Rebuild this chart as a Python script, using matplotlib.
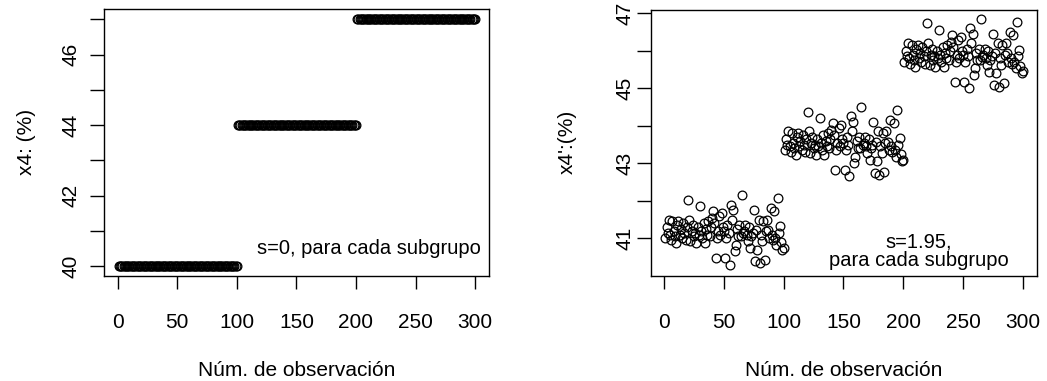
import numpy as np
import matplotlib
matplotlib.use("Agg")
import matplotlib.pyplot as plt

plt.rcParams["font.family"] = ["Liberation Sans", "DejaVu Sans"]

# left panel: constant value per subgroup of 100 observations
niveles = [40, 44, 47]
n_sub = 100
x4 = np.repeat(niveles, n_sub)

# right panel: values, one list per subgroup
sub1 = [41.00, 41.30, 41.15, 41.50, 41.10, 40.95, 41.45, 41.20, 41.05, 40.87,
        41.35, 41.45, 41.10, 41.25, 41.00, 41.40, 41.15, 40.95, 41.30, 42.03,
        41.50, 40.92, 41.20, 41.35, 41.05, 41.15, 40.87, 41.30, 41.10, 41.85,
        41.19, 41.00, 41.40, 40.87, 41.25, 41.10, 41.45, 41.05, 41.30, 41.54,
        41.72, 41.41, 40.47, 41.00, 41.20, 41.60, 41.10, 41.67, 41.30, 41.19,
        40.47, 41.00, 41.35, 41.15, 40.30, 41.90, 41.50, 41.76, 40.65, 40.83,
        41.25, 41.05, 41.36, 41.06, 42.16, 41.14, 41.20, 41.36, 41.10, 40.92,
        41.30, 40.74, 41.05, 41.15, 41.76, 40.39, 41.23, 40.70, 41.50, 40.34,
        41.10, 40.93, 41.45, 40.43, 41.20, 41.50, 41.23, 41.00, 41.81, 41.10,
        40.95, 41.72, 41.00, 40.83, 42.07, 41.15, 41.32, 40.90, 40.70, 40.75]
sub2 = [43.35, 43.65, 43.50, 43.85, 43.45, 43.30, 43.80, 43.55, 43.40, 43.22,
        43.70, 43.80, 43.45, 43.60, 43.35, 43.75, 43.50, 43.30, 43.65, 44.38,
        43.85, 43.27, 43.55, 43.70, 43.40, 43.50, 43.22, 43.65, 43.45, 44.20,
        43.54, 43.35, 43.75, 43.22, 43.60, 43.45, 43.80, 43.40, 43.65, 43.89,
        44.07, 43.76, 42.82, 43.35, 43.55, 43.95, 43.45, 44.02, 43.65, 43.54,
        42.82, 43.35, 43.70, 43.50, 42.65, 44.25, 43.85, 44.11, 43.00, 43.18,
        43.60, 43.40, 43.71, 43.41, 44.51, 43.49, 43.55, 43.71, 43.45, 43.27,
        43.65, 43.09, 43.40, 43.50, 44.11, 42.74, 43.58, 43.05, 43.85, 42.69,
        43.45, 43.28, 43.80, 42.78, 43.55, 43.85, 43.58, 43.35, 44.16, 43.45,
        43.30, 44.07, 43.35, 43.18, 44.42, 43.50, 43.67, 43.25, 43.05, 43.10]
sub3 = [45.70, 46.00, 45.85, 46.20, 45.80, 45.65, 46.15, 45.90, 45.75, 45.57,
        46.05, 46.15, 45.80, 45.95, 45.70, 46.10, 45.85, 45.65, 46.00, 46.73,
        46.20, 45.62, 45.90, 46.05, 45.75, 45.85, 45.57, 46.00, 45.80, 46.55,
        45.89, 45.70, 46.10, 45.57, 45.95, 45.80, 46.15, 45.75, 46.00, 46.24,
        46.42, 46.11, 45.17, 45.70, 45.90, 46.30, 45.80, 46.37, 46.00, 45.89,
        45.17, 45.70, 46.05, 45.85, 45.00, 46.60, 46.20, 46.46, 45.35, 45.53,
        45.95, 45.75, 46.06, 45.76, 46.86, 45.84, 45.90, 46.06, 45.80, 45.62,
        46.00, 45.44, 45.75, 45.85, 46.46, 45.09, 45.93, 45.40, 46.20, 45.04,
        45.80, 45.63, 46.15, 45.13, 45.90, 46.20, 45.93, 45.70, 46.51, 45.80,
        45.65, 46.42, 45.70, 45.53, 46.77, 45.85, 46.02, 45.60, 45.40, 45.45]
x4p = np.array(sub1 + sub2 + sub3)

obs = np.arange(1, len(x4) + 1)

fig = plt.figure(figsize=(10.47, 3.81), dpi=100)
ax1 = fig.add_axes([0.0998, 0.2756, 0.3677, 0.6995])
ax2 = fig.add_axes([0.6218, 0.2756, 0.3687, 0.6982])

mk = dict(marker="o", linestyle="none", markersize=6.3,
          markerfacecolor="none", markeredgecolor="black", markeredgewidth=0.9)

ax1.plot(obs, x4, **mk)
ax2.plot(obs, x4p, **mk)

for ax in (ax1, ax2):
    ax.set_xlim(-10.96, 311.96)
    ax.set_xticks([0, 50, 100, 150, 200, 250, 300])
    ax.tick_params(axis="x", length=9, width=1, pad=18, labelsize=15)
    for s in ax.spines.values():
        s.set_linewidth(1)

ax1.set_ylim(39.72, 47.28)
ax1.set_yticks(range(40, 48))
ax1.set_yticklabels(["40", "", "42", "", "44", "", "46", ""])
ax1.tick_params(axis="y", length=10, width=1, pad=7, labelsize=15)

ax2.set_ylim(39.995, 47.09)
ax2.set_yticks(range(41, 48))
ax2.set_yticklabels(["41", "", "43", "", "45", "", "47"])
ax2.tick_params(axis="y", length=10, width=1, pad=2, labelsize=15)

for ax in (ax1, ax2):
    for lab in ax.get_yticklabels():
        lab.set_rotation(90)
        lab.set_va("center")

fig.text(26 / 1047, 1 - 142 / 381, "x4: (%)", rotation=90, ha="center", va="center", fontsize=15)
fig.text(567 / 1047, 1 - 142 / 381, "x4':(%)", rotation=90, ha="center", va="center", fontsize=15)
fig.text(297 / 1047, 1 - 370 / 381, "Núm. de observación", ha="center", va="center", fontsize=15)
fig.text(844 / 1047, 1 - 370 / 381, "Núm. de observación", ha="center", va="center", fontsize=15)

ax1.text(0.978, 0.105, "s=0, para cada subgrupo", transform=ax1.transAxes,
         ha="right", va="center", fontsize=14.5)
ax2.text(0.694, 0.094, "s=1.95,\npara cada subgrupo", transform=ax2.transAxes,
         ha="center", va="center", multialignment="center", fontsize=14.5,
         linespacing=0.95)

fig.savefig("out.png", dpi=100)
